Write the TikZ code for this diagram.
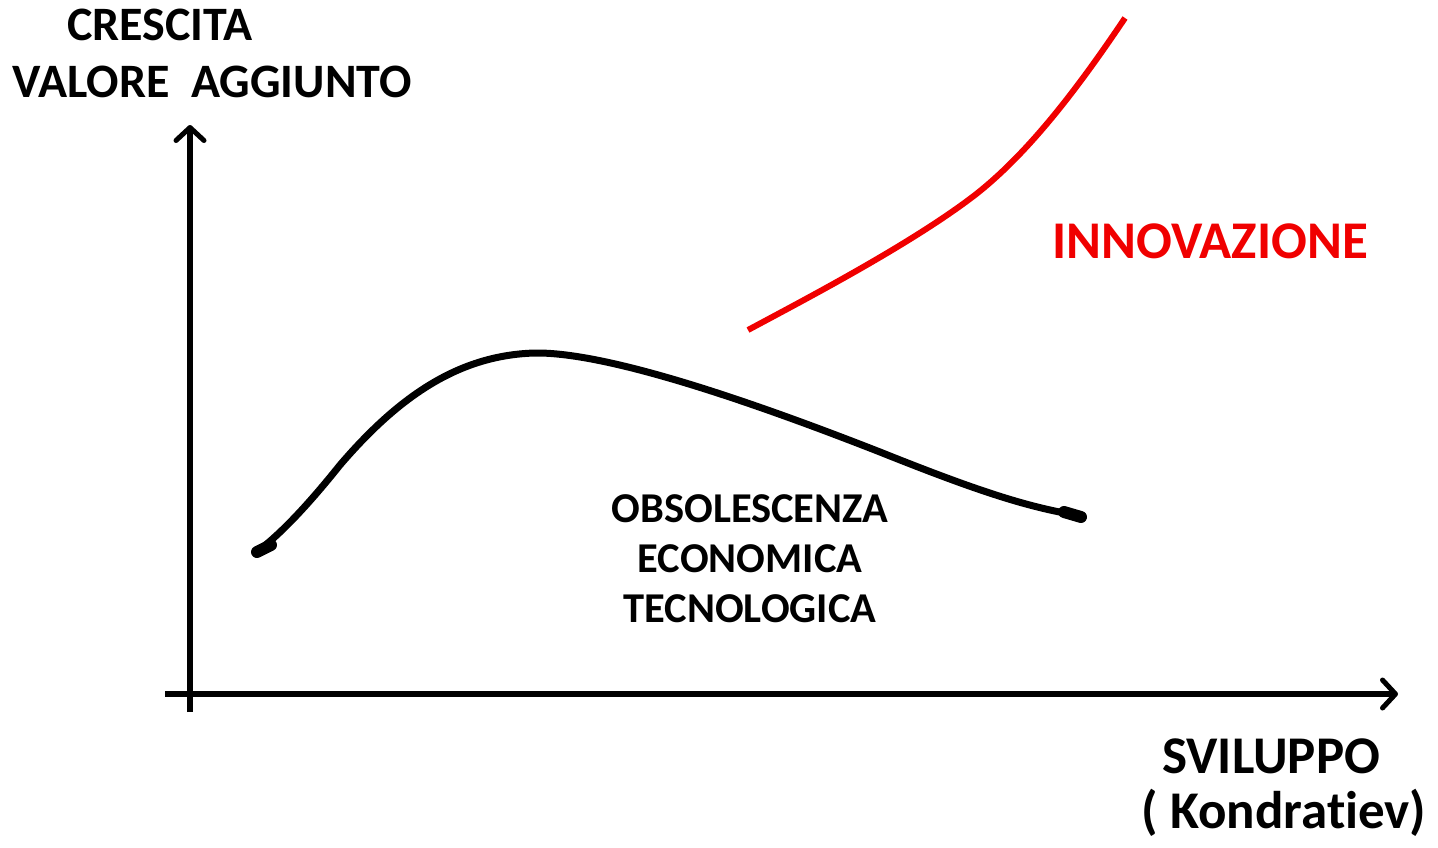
\documentclass[tikz,border=0pt]{standalone}
\usepackage{fontspec}
\setmainfont[Ligatures={NoCommon}]{Carlito}
\usetikzlibrary{arrows.meta}
\definecolor{innored}{RGB}{240,0,0}
\tikzset{
  axis/.style={line width=5.5pt, -{Straight Barb[length=13pt,width=28pt,line width=5pt,round]}},
  lbl/.style={font=\bfseries\fontsize{48}{56}\selectfont, inner sep=0pt, anchor=base},
  midlbl/.style={font=\bfseries\fontsize{42.5}{50}\selectfont, inner sep=0pt, anchor=base},
  biglbl/.style={font=\bfseries\fontsize{53}{60}\selectfont, inner sep=0pt, anchor=base},
  curveline/.style={line width=7pt, line cap=round, line join=round},
  blob/.style={line width=12pt, line cap=round}
}
\begin{document}
\begin{tikzpicture}[x=1pt,y=-1pt]
\useasboundingbox (0,0) rectangle (1438,847);
% axes
\coordinate (ybot) at (190,712);
\coordinate (ytop) at (190,125);
\coordinate (xl) at (165,694);
\coordinate (xr) at (1398,694);
\draw[axis] (ybot) -- (ytop);
\draw[axis] (xl) -- (xr);
% labels
\node[lbl] (cres) at (160,40) {CRESCITA};
\node[lbl] (val) at (212,97) {VALORE\ \ AGGIUNTO};
\node[biglbl] (svil) at (1271,773) {SVILUPPO};
\node[biglbl] (kond) at (1284,828) {( Kondrat\kern0pt iev)};
\node[biglbl, text=innored] (inno) at (1210,258) {INNOVAZIONE};
\node[midlbl] (obs1) at (750,522) {OBSOLESCENZA};
\node[midlbl] (obs2) at (750,572) {ECONOMICA};
\node[midlbl] (obs3) at (750,622) {TECNOLOGICA};
% black curve
\draw[curveline] (258,551) .. controls (275,538) and (300,515) .. (340,465)
  .. controls (400,395) and (460,355) .. (535,353)
  .. controls (610,352) and (760,405) .. (880,452)
  .. controls (980,492) and (1030,508) .. (1082,516);
\draw[blob] (257,552) -- (271,545);
\draw[blob] (1064,512) -- (1081,517);
% red curve
\draw[curveline, line width=6pt, draw=innored, line cap=butt] (748,330) .. controls (800,302) and (910,245) .. (975,195)
  .. controls (1030,152) and (1080,85) .. (1125,18);
\end{tikzpicture}
\end{document}
